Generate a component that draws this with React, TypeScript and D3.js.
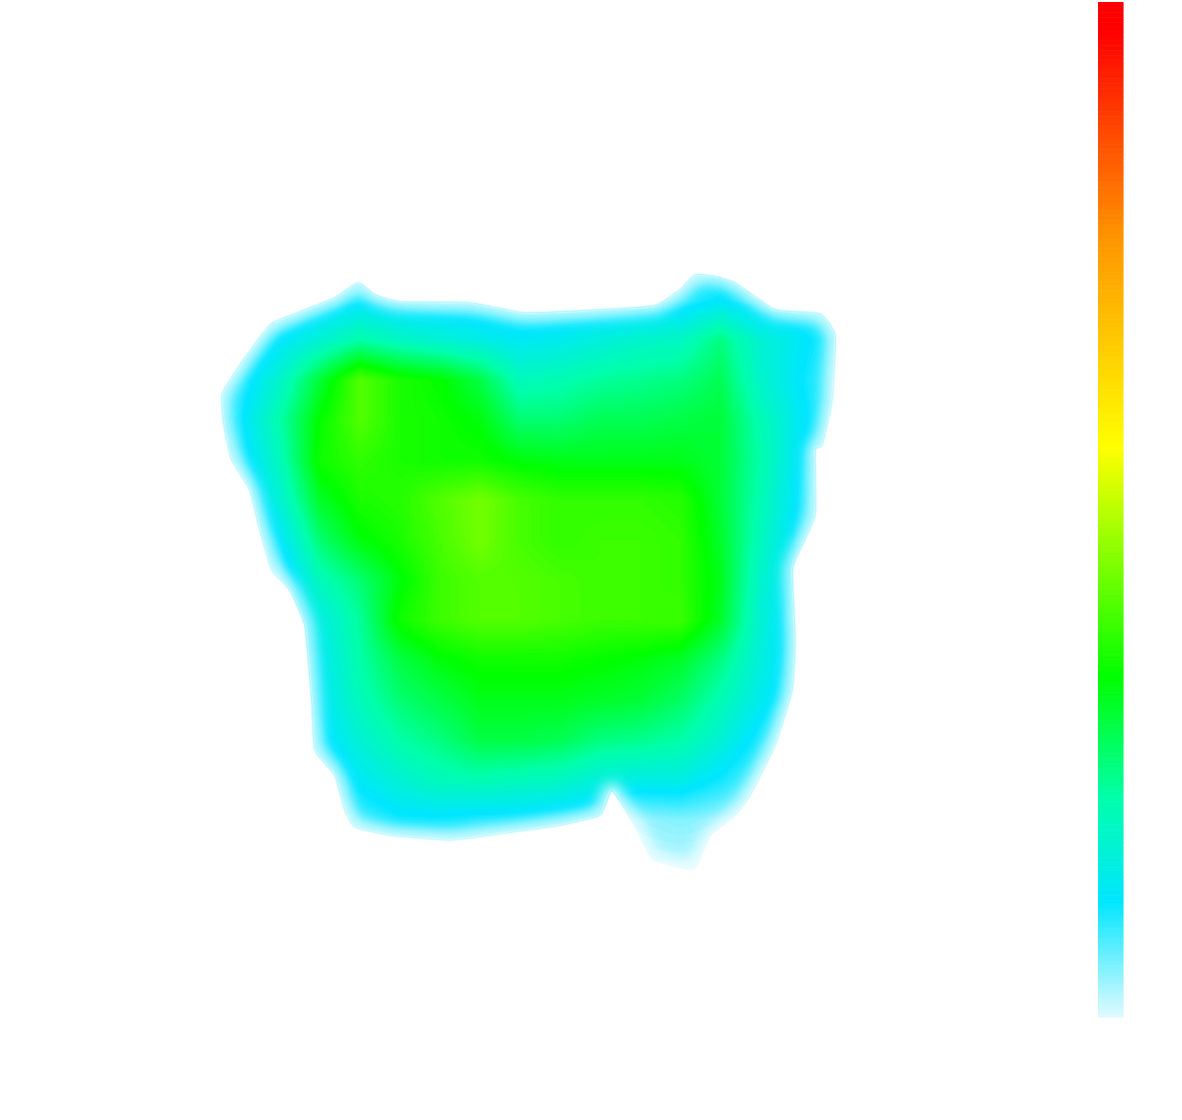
import React from "react";
import * as d3 from "d3";

// Intensity readings (percent of the colour bar) at sample nodes, one list per row.
const row0 = [3, 3, 3, 3, 7, 3, 3, 3, 3, 3, 3, 3, 5, 9, 6, 3, 3];
const row1 = [4, 4, 4, 8, 11, 9, 8, 8, 7, 7, 7, 8, 9, 12, 9, 8, 7];
const row2 = [5, 5, 12, 17, 22, 19, 17, 15, 13, 14, 16, 18, 19, 25, 17, 13, 8];
const row3 = [4, 9, 18, 30, 41, 36, 34, 29, 20, 21, 23, 24, 25, 28, 18, 12, 6];
const row4 = [8, 11, 22, 34, 41, 36, 35, 33, 26, 26, 28, 28, 29, 30, 21, 13, 6];
const row5 = [4, 9, 20, 35, 38, 36, 35, 35, 33, 32, 32, 32, 32, 30, 22, 12, 5];
const row6 = [3, 5, 17, 31, 36, 37, 41, 44, 40, 38, 38, 38, 37, 30, 21, 11, 4];
const row7 = [3, 3, 12, 26, 33, 36, 40, 44, 40, 38, 39, 39, 38, 31, 20, 10, 4];
const row8 = [3, 3, 7, 20, 26, 33, 39, 41, 41, 40, 39, 39, 38, 32, 18, 9, 4];
const row9 = [3, 3, 5, 15, 23, 35, 39, 41, 41, 40, 39, 39, 39, 31, 17, 8, 4];
const row10 = [3, 3, 3, 13, 22, 29, 33, 35, 35, 35, 34, 33, 31, 25, 16, 8, 3];
const row11 = [3, 3, 3, 12, 20, 26, 29, 32, 32, 32, 31, 30, 27, 21, 14, 7, 3];
const row12 = [3, 3, 3, 10, 17, 22, 25, 29, 29, 28, 25, 24, 22, 17, 10, 4, 3];
const row13 = [3, 3, 3, 6, 13, 17, 20, 21, 20, 19, 16, 15, 15, 11, 6, 3, 3];
const row14 = [3, 3, 3, 3, 8, 11, 11, 10, 10, 9, 8, 4, 5, 4, 3, 3, 3];
const row15 = [2, 2, 2, 2, 2, 2, 2, 2, 2, 2, 3, 2.5, 2.5, 2.5, 2, 2, 2];
const row16 = [2, 2, 2, 2, 2, 2, 2, 2, 2, 2, 2, 2, 2, 2, 2, 2, 2];
const rows = [row0, row1, row2, row3, row4, row5, row6, row7, row8, row9, row10, row11, row12, row13, row14, row15, row16];

// Outline of the sampled area, in the same data units as the node positions (0-640, 0-640).
const outlineX = [22, 40, 70, 100, 135, 158, 175, 200, 270, 325, 400, 455, 480, 495, 512, 535, 575, 620, 635, 632, 622, 615, 615, 595, 592, 595, 592, 575, 550, 535, 510, 495, 475, 452, 435, 412, 400, 360, 290, 250, 190, 155, 145, 135, 115, 112, 105, 90, 72, 60, 50, 32, 25];
const outlineY = [135, 105, 65, 52, 38, 23, 35, 42, 43, 53, 50, 46, 30, 15, 16, 23, 50, 54, 75, 140, 185, 190, 255, 300, 312, 380, 430, 485, 535, 555, 575, 608, 606, 598, 565, 530, 555, 565, 575, 580, 575, 567, 550, 515, 490, 440, 365, 330, 310, 270, 230, 200, 170];

// Colour bar stops
const stopValues = [0, 11.5, 21.7, 33.5, 56.2, 76.6, 97.2, 100];
const stopColors = ["#e0faff", "#00e6ff", "#00ffaa", "#00ff00", "#ffff00", "#ff9600", "#ff0000", "#ff0000"];

const UP = 10; // render samples per node interval
const nCols = rows[0].length;
const nRows = rows.length;

export default function App() {
  const color = d3.scaleLinear<string>().domain(stopValues).range(stopColors).interpolate(d3.interpolateRgb).clamp(true);
  const xNode = d3.scaleLinear().domain([0, 640]).range([200, 840]);
  const yNode = d3.scaleLinear().domain([0, 640]).range([260, 900]);
  const xSample = d3.scaleLinear().domain([0, (nCols - 1) * UP]).range([200, 840]);
  const ySample = d3.scaleLinear().domain([0, (nRows - 1) * UP]).range([260, 900]);

  const w = (nCols - 1) * UP + 1;
  const h = (nRows - 1) * UP + 1;
  const field = new Array<number>(w * h);
  for (let j = 0; j < h; j++) {
    const fy = j / UP;
    const r0 = Math.min(Math.floor(fy), nRows - 2);
    const ty = fy - r0;
    for (let i = 0; i < w; i++) {
      const fx = i / UP;
      const c0 = Math.min(Math.floor(fx), nCols - 2);
      const tx = fx - c0;
      const top = rows[r0][c0] * (1 - tx) + rows[r0][c0 + 1] * tx;
      const bot = rows[r0 + 1][c0] * (1 - tx) + rows[r0 + 1][c0 + 1] * tx;
      field[j * w + i] = top * (1 - ty) + bot * ty;
    }
  }
  const thresholds = d3.range(0.5, 50, 0.5);
  const bands = d3.contours().size([w, h]).smooth(true).thresholds(thresholds)(field);
  const path = d3.geoPath(
    d3.geoTransform({
      point(x: number, y: number) {
        (this as any).stream.point(xSample(x - 0.5), ySample(y - 0.5));
      },
    })
  );

  const outline =
    d3
      .line<number>()
      .x((d) => xNode(outlineX[d]))
      .y((d) => yNode(outlineY[d]))
      .curve(d3.curveCardinalClosed.tension(0.6))(d3.range(outlineX.length)) ?? "";

  const yBar = d3.scaleLinear().domain([0, 100]).range([1017, 2]);
  const barSteps = d3.range(0, 100, 0.25);

  return (
    <svg width={1182} height={1120} style={{ position: "absolute", left: 0, top: 0, display: "block" }}>
      <defs>
        <filter id="edge" x="-10%" y="-10%" width="120%" height="120%">
          <feGaussianBlur stdDeviation={1} />
        </filter>
        <filter id="rim" x="-10%" y="-10%" width="120%" height="120%">
          <feGaussianBlur stdDeviation={7} />
        </filter>
        <clipPath id="inside">
          <path d={outline} />
        </clipPath>
        <mask id="area" maskUnits="userSpaceOnUse" x={180} y={240} width={700} height={680}>
          <path d={outline} fill="#fff" filter="url(#edge)" />
          <g clipPath="url(#inside)">
            <path d={outline} fill="none" stroke="#000" strokeWidth={14} strokeOpacity={0.85} filter="url(#rim)" />
          </g>
        </mask>
      </defs>
      <g mask="url(#area)">
        {bands.map((b, i) => (
          <path key={i} d={path(b as any) ?? ""} fill={color(b.value)} />
        ))}
      </g>
      <g>
        {barSteps.map((v) => (
          <rect
            key={v}
            x={1098}
            y={yBar(v + 0.25)}
            width={25.5}
            height={yBar(v) - yBar(v + 0.25) + 0.6}
            fill={color(v + 0.125)}
          />
        ))}
      </g>
    </svg>
  );
}
